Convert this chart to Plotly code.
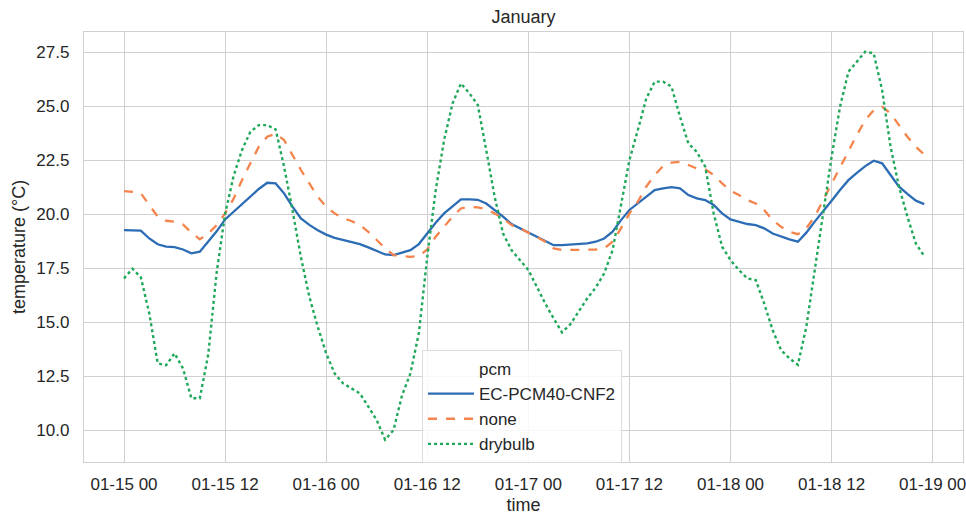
import pandas as pd
import plotly.graph_objects as go

start_time = "2021-01-15 00:00"
n_hours = 96

ec_pcm40_cnf2 = [
    19.26, 19.26, 19.23, 18.87, 18.60, 18.49, 18.47, 18.36, 18.18, 18.26,
    18.72, 19.20, 19.75, 20.10, 20.42, 20.80, 21.16, 21.45, 21.42, 20.96,
    20.34, 19.80, 19.50, 19.25, 19.05, 18.90, 18.80, 18.72, 18.61, 18.46,
    18.30, 18.13, 18.10, 18.21, 18.33, 18.61, 19.10, 19.60, 20.03, 20.37,
    20.68, 20.68, 20.66, 20.49, 20.19, 19.88, 19.54, 19.34, 19.14, 18.95,
    18.77, 18.56, 18.56, 18.58, 18.61, 18.64, 18.72, 18.87, 19.18, 19.72,
    20.19, 20.49, 20.80, 21.11, 21.19, 21.25, 21.19, 20.88, 20.73, 20.65,
    20.42, 20.03, 19.75, 19.65, 19.54, 19.49, 19.34, 19.10, 18.95, 18.83,
    18.72, 19.14, 19.65, 20.11, 20.62, 21.11, 21.57, 21.91, 22.22, 22.47,
    22.35, 21.81, 21.27, 20.93, 20.62, 20.46,
]

none = [
    21.06, 21.03, 20.96, 20.42, 19.88, 19.69, 19.65, 19.52, 19.14, 18.83,
    19.10, 19.49, 20.03, 20.70, 21.57, 22.35, 23.12, 23.58, 23.72, 23.43,
    22.73, 22.04, 21.42, 20.80, 20.34, 20.03, 19.80, 19.68, 19.49, 19.18,
    18.80, 18.41, 18.10, 18.06, 18.02, 18.06, 18.36, 18.95, 19.44, 19.88,
    20.26, 20.34, 20.31, 20.22, 20.03, 19.80, 19.49, 19.34, 19.14, 18.95,
    18.72, 18.41, 18.33, 18.33, 18.36, 18.36, 18.36, 18.41, 18.72, 19.34,
    20.03, 20.57, 21.27, 21.81, 22.22, 22.38, 22.42, 22.27, 22.11, 22.07,
    21.81, 21.42, 21.08, 20.88, 20.65, 20.49, 20.19, 19.72, 19.41, 19.18,
    19.07, 19.34, 19.88, 20.65, 21.42, 22.19, 22.96, 23.66, 24.35, 24.81,
    24.97, 24.66, 24.12, 23.58, 23.12, 22.75,
]

drybulb = [
    17.02, 17.47, 17.07, 15.40, 13.09, 13.00, 13.55, 12.85, 11.47, 11.47,
    13.50, 17.30, 20.00, 21.75, 22.96, 23.81, 24.12, 24.12, 23.92, 22.20,
    20.18, 18.00, 16.17, 14.78, 13.55, 12.62, 12.16, 11.93, 11.70, 11.08,
    10.46, 9.55, 10.00, 11.60, 12.62, 14.48, 18.02, 21.10, 23.43, 25.12,
    26.05, 25.59, 25.05, 22.96, 20.80, 19.10, 18.33, 17.87, 17.41, 16.64,
    15.86, 15.17, 14.52, 14.90, 15.50, 16.10, 16.60, 17.25, 18.33, 20.34,
    22.50, 23.89, 25.35, 26.13, 26.13, 25.90, 24.51, 23.27, 22.88, 22.19,
    20.03, 18.49, 17.87, 17.41, 17.02, 16.94, 15.86, 14.63, 13.70, 13.32,
    13.02, 14.78, 17.30, 20.03, 22.65, 24.97, 26.59, 27.05, 27.52, 27.44,
    25.74, 23.12, 21.27, 19.88, 18.64, 18.05,
]

series_names = ["EC-PCM40-CNF2", "none", "drybulb"]
series_values = [ec_pcm40_cnf2, none, drybulb]
series_colors = ["#2c6cb4", "#f4844c", "#1fa85a"]
series_dash = ["solid", "dash", "dot"]

y_ticks = [10.0, 12.5, 15.0, 17.5, 20.0, 22.5, 25.0, 27.5]

times = pd.date_range(start_time, periods=n_hours, freq="h")

fig = go.Figure()
# legend header entry (seaborn style "pcm" title row)
fig.add_trace(go.Scatter(x=[None], y=[None], mode="lines", name="pcm",
                         line=dict(color="rgba(0,0,0,0)", width=2)))
for name, vals, col, dash in zip(series_names, series_values, series_colors, series_dash):
    fig.add_trace(go.Scatter(
        x=times, y=vals, mode="lines", name=name,
        line=dict(color=col, width=2.3 if dash != "dot" else 2.4, dash=dash),
    ))

font_color = "#262626"
grid_color = "#d0d0d0"

t0 = pd.Timestamp(start_time)
x_lo = t0 - pd.Timedelta(hours=4.75)
x_hi = t0 + pd.Timedelta(hours=99.6)

fig.update_layout(
    width=966, height=516,
    margin=dict(l=84, r=3, t=32, b=54, autoexpand=False),
    paper_bgcolor="white", plot_bgcolor="white",
    font=dict(family="Liberation Sans, Arial, sans-serif", size=17, color=font_color),
    title=dict(text="January", x=(84 + 963) / 2 / 966, xanchor="center",
               y=1 - 17 / 516, yanchor="middle", yref="container",
               font=dict(size=18, color=font_color)),
    showlegend=True,
    legend=dict(
        x=(422 - 84) / 879, y=(462 - 350) / 430, xanchor="left", yanchor="top",
        bgcolor="rgba(255,255,255,0.85)", bordercolor="#dcdcdc", borderwidth=1,
        font=dict(size=17, color=font_color),
        tracegroupgap=0, itemwidth=46,
    ),
    xaxis=dict(
        type="date", range=[x_lo, x_hi],
        tick0=start_time, dtick=12 * 3600 * 1000, tickformat="%m-%d %H",
        showgrid=True, gridcolor=grid_color, gridwidth=1.4,
        showline=True, linecolor=grid_color, linewidth=1.4, mirror=True,
        ticks="outside", ticklen=6, tickcolor="rgba(0,0,0,0)",
        ticklabeloverflow="allow",
        zeroline=False, automargin=False,
        title=dict(text="time", font=dict(size=18, color=font_color), standoff=5),
        tickfont=dict(size=17, color=font_color),
    ),
    yaxis=dict(
        range=[8.52, 28.43], tickvals=y_ticks, tickformat=".1f",
        showgrid=True, gridcolor=grid_color, gridwidth=1.4,
        showline=True, linecolor=grid_color, linewidth=1.4, mirror=True,
        ticks="outside", ticklen=10, tickcolor="rgba(0,0,0,0)",
        zeroline=False, automargin=False,
        title=dict(text="temperature (°C)", font=dict(size=18, color=font_color), standoff=6),
        tickfont=dict(size=17, color=font_color),
    ),
)

fig.write_html("out.html", config={"displayModeBar": False},
               post_script="document.body.style.margin='0px';")
